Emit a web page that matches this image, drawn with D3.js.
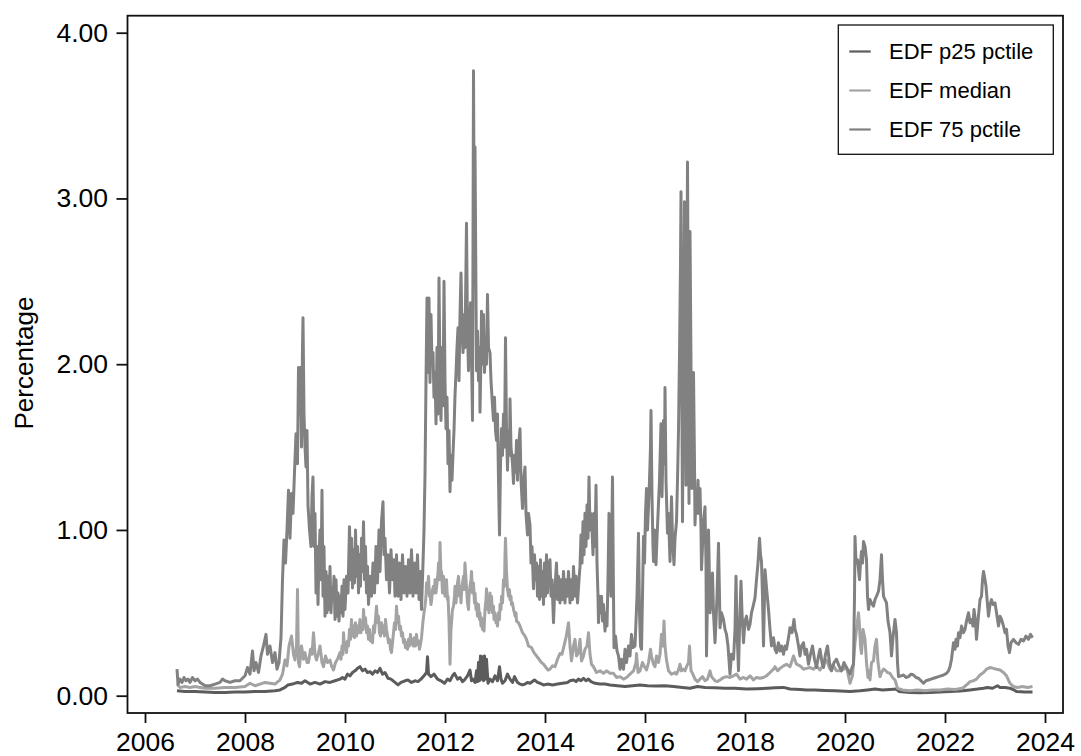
<!DOCTYPE html>
<html>
<head>
<meta charset="utf-8">
<script src="https://cdn.jsdelivr.net/npm/d3@7"></script>
<style>
	body { margin: 0; background: #fff; }
	svg { display: block; font-family: "Liberation Sans", Arial, sans-serif; }
</style>
</head>
<body>
<svg id="chart" width="1081" height="756"></svg>
<script>
const xTicks = [2006, 2008, 2010, 2012, 2014, 2016, 2018, 2020, 2022, 2024];
const yTicks = [0, 1, 2, 3, 4];
const seriesNames = ["EDF p25 pctile", "EDF median", "EDF 75 pctile"];

// [decimal year, percentage]
const p25 = [[2006.64,0.03],[2006.8,0.025],[2007.0,0.025],[2007.2,0.022],[2007.4,0.02],[2007.6,0.02],[2007.8,0.022],[2008.0,0.022],[2008.2,0.025],[2008.4,0.025],[2008.6,0.03],[2008.7,0.035],[2008.8,0.05],[2008.86,0.065],[2008.95,0.07],[2009.05,0.08],[2009.13,0.075],[2009.2,0.09],[2009.3,0.07],[2009.4,0.08],[2009.5,0.07],[2009.6,0.085],[2009.7,0.08],[2009.8,0.09],[2009.9,0.1],[2009.95,0.11],[2010.0,0.1],[2010.05,0.13],[2010.1,0.12],[2010.15,0.14],[2010.2,0.15],[2010.25,0.165],[2010.3,0.175],[2010.35,0.15],[2010.4,0.16],[2010.45,0.14],[2010.5,0.145],[2010.55,0.13],[2010.6,0.15],[2010.65,0.14],[2010.7,0.165],[2010.75,0.13],[2010.8,0.14],[2010.86,0.105],[2010.92,0.1],[2011.0,0.08],[2011.06,0.065],[2011.12,0.08],[2011.2,0.09],[2011.26,0.095],[2011.33,0.08],[2011.4,0.09],[2011.46,0.085],[2011.52,0.1],[2011.58,0.12],[2011.63,0.14],[2011.65,0.235],[2011.67,0.13],[2011.72,0.115],[2011.78,0.13],[2011.85,0.1],[2011.92,0.09],[2011.99,0.075],[2012.05,0.1],[2012.1,0.09],[2012.15,0.12],[2012.19,0.135],[2012.25,0.1],[2012.3,0.11],[2012.35,0.085],[2012.39,0.095],[2012.45,0.12],[2012.5,0.155],[2012.53,0.09],[2012.56,0.1],[2012.6,0.08],[2012.63,0.15],[2012.65,0.085],[2012.67,0.2],[2012.69,0.09],[2012.71,0.24],[2012.73,0.1],[2012.75,0.235],[2012.77,0.09],[2012.79,0.24],[2012.81,0.1],[2012.83,0.22],[2012.86,0.075],[2012.9,0.1],[2012.95,0.085],[2013.0,0.12],[2013.05,0.09],[2013.09,0.175],[2013.12,0.1],[2013.15,0.075],[2013.2,0.09],[2013.25,0.13],[2013.3,0.1],[2013.35,0.08],[2013.39,0.115],[2013.45,0.08],[2013.5,0.07],[2013.55,0.065],[2013.6,0.07],[2013.65,0.08],[2013.7,0.075],[2013.79,0.095],[2013.85,0.08],[2013.9,0.075],[2013.97,0.065],[2014.05,0.07],[2014.15,0.065],[2014.25,0.07],[2014.35,0.075],[2014.45,0.08],[2014.5,0.09],[2014.57,0.095],[2014.62,0.085],[2014.67,0.1],[2014.72,0.09],[2014.77,0.105],[2014.82,0.09],[2014.87,0.1],[2014.92,0.085],[2015.0,0.075],[2015.1,0.07],[2015.2,0.07],[2015.3,0.065],[2015.45,0.06],[2015.6,0.055],[2015.75,0.06],[2015.9,0.065],[2016.05,0.06],[2016.2,0.058],[2016.4,0.06],[2016.57,0.055],[2016.75,0.05],[2016.9,0.045],[2017.05,0.055],[2017.2,0.05],[2017.4,0.048],[2017.6,0.045],[2017.8,0.045],[2018.03,0.04],[2018.25,0.042],[2018.45,0.045],[2018.6,0.048],[2018.77,0.05],[2018.9,0.04],[2019.1,0.038],[2019.23,0.035],[2019.4,0.035],[2019.6,0.032],[2019.8,0.03],[2019.9,0.028],[2020.1,0.025],[2020.3,0.03],[2020.45,0.035],[2020.6,0.04],[2020.75,0.035],[2020.9,0.038],[2021.03,0.04],[2021.08,0.025],[2021.3,0.02],[2021.5,0.018],[2021.7,0.02],[2021.9,0.022],[2022.1,0.025],[2022.3,0.028],[2022.5,0.035],[2022.65,0.04],[2022.77,0.045],[2022.85,0.05],[2022.95,0.045],[2023.05,0.06],[2023.1,0.05],[2023.2,0.05],[2023.3,0.045],[2023.38,0.035],[2023.43,0.025],[2023.6,0.022],[2023.75,0.022]];

const median = [[2006.64,0.07],[2006.7,0.05],[2006.8,0.055],[2006.9,0.05],[2007.0,0.055],[2007.1,0.05],[2007.2,0.045],[2007.4,0.045],[2007.6,0.05],[2007.8,0.05],[2008.0,0.055],[2008.1,0.075],[2008.2,0.06],[2008.3,0.07],[2008.4,0.08],[2008.5,0.075],[2008.6,0.07],[2008.7,0.095],[2008.75,0.13],[2008.8,0.215],[2008.84,0.18],[2008.88,0.3],[2008.93,0.36],[2008.97,0.25],[2009.0,0.215],[2009.03,0.3],[2009.05,0.64],[2009.07,0.2],[2009.09,0.175],[2009.13,0.3],[2009.17,0.22],[2009.2,0.26],[2009.24,0.2],[2009.27,0.2],[2009.31,0.28],[2009.34,0.25],[2009.37,0.38],[2009.4,0.25],[2009.43,0.215],[2009.47,0.26],[2009.5,0.3],[2009.54,0.2],[2009.57,0.175],[2009.61,0.24],[2009.65,0.2],[2009.7,0.215],[2009.73,0.18],[2009.77,0.155],[2009.81,0.2],[2009.85,0.22],[2009.9,0.26],[2009.92,0.22],[2009.94,0.3],[2009.96,0.25],[2009.97,0.38],[2009.99,0.28],[2010.01,0.32],[2010.03,0.26],[2010.05,0.33],[2010.07,0.3],[2010.09,0.4],[2010.11,0.34],[2010.13,0.46],[2010.15,0.36],[2010.17,0.42],[2010.19,0.35],[2010.21,0.44],[2010.23,0.36],[2010.25,0.42],[2010.27,0.38],[2010.3,0.46],[2010.32,0.38],[2010.34,0.44],[2010.36,0.4],[2010.37,0.52],[2010.39,0.42],[2010.41,0.47],[2010.43,0.38],[2010.45,0.42],[2010.47,0.34],[2010.49,0.4],[2010.51,0.33],[2010.53,0.36],[2010.55,0.32],[2010.57,0.42],[2010.59,0.38],[2010.61,0.46],[2010.63,0.54],[2010.65,0.44],[2010.67,0.48],[2010.69,0.38],[2010.71,0.36],[2010.73,0.44],[2010.75,0.38],[2010.77,0.42],[2010.79,0.36],[2010.81,0.46],[2010.83,0.4],[2010.85,0.36],[2010.87,0.32],[2010.89,0.34],[2010.91,0.28],[2010.93,0.26],[2010.95,0.32],[2010.97,0.38],[2010.99,0.44],[2011.01,0.4],[2011.03,0.54],[2011.05,0.44],[2011.07,0.48],[2011.09,0.4],[2011.11,0.42],[2011.13,0.36],[2011.15,0.38],[2011.17,0.32],[2011.19,0.34],[2011.21,0.29],[2011.23,0.32],[2011.25,0.28],[2011.27,0.34],[2011.29,0.3],[2011.31,0.37],[2011.33,0.31],[2011.35,0.34],[2011.37,0.3],[2011.39,0.35],[2011.41,0.3],[2011.43,0.37],[2011.45,0.31],[2011.47,0.33],[2011.49,0.28],[2011.51,0.31],[2011.53,0.35],[2011.56,0.45],[2011.58,0.5],[2011.6,0.54],[2011.62,0.6],[2011.63,0.68],[2011.65,0.62],[2011.67,0.72],[2011.69,0.6],[2011.7,0.62],[2011.72,0.55],[2011.73,0.57],[2011.75,0.64],[2011.77,0.66],[2011.79,0.62],[2011.8,0.7],[2011.82,0.62],[2011.84,0.68],[2011.86,0.74],[2011.87,0.8],[2011.89,0.7],[2011.9,0.925],[2011.92,0.72],[2011.93,0.75],[2011.95,0.62],[2011.97,0.72],[2011.98,0.68],[2012.0,0.6],[2012.01,0.66],[2012.03,0.7],[2012.05,0.58],[2012.06,0.6],[2012.08,0.45],[2012.1,0.19],[2012.12,0.4],[2012.14,0.48],[2012.15,0.52],[2012.17,0.54],[2012.19,0.6],[2012.2,0.66],[2012.22,0.56],[2012.23,0.6],[2012.25,0.68],[2012.27,0.72],[2012.29,0.6],[2012.3,0.66],[2012.32,0.56],[2012.33,0.62],[2012.35,0.68],[2012.37,0.72],[2012.38,0.64],[2012.4,0.8],[2012.42,0.7],[2012.43,0.65],[2012.45,0.56],[2012.47,0.52],[2012.48,0.6],[2012.5,0.66],[2012.52,0.7],[2012.53,0.75],[2012.55,0.62],[2012.57,0.68],[2012.59,0.56],[2012.6,0.62],[2012.62,0.52],[2012.63,0.56],[2012.65,0.48],[2012.67,0.55],[2012.69,0.46],[2012.7,0.5],[2012.72,0.42],[2012.73,0.47],[2012.75,0.4],[2012.77,0.45],[2012.78,0.39],[2012.8,0.52],[2012.82,0.58],[2012.83,0.645],[2012.85,0.52],[2012.87,0.58],[2012.88,0.5],[2012.9,0.62],[2012.92,0.52],[2012.93,0.6],[2012.95,0.5],[2012.97,0.54],[2012.98,0.46],[2013.0,0.5],[2013.02,0.44],[2013.03,0.46],[2013.05,0.42],[2013.07,0.5],[2013.09,0.46],[2013.1,0.55],[2013.12,0.52],[2013.13,0.6],[2013.15,0.56],[2013.17,0.7],[2013.19,0.66],[2013.2,0.85],[2013.21,0.95],[2013.23,0.75],[2013.25,0.64],[2013.27,0.6],[2013.29,0.64],[2013.3,0.58],[2013.32,0.6],[2013.33,0.55],[2013.35,0.56],[2013.37,0.52],[2013.39,0.5],[2013.4,0.48],[2013.42,0.5],[2013.43,0.45],[2013.47,0.44],[2013.5,0.42],[2013.55,0.38],[2013.6,0.36],[2013.63,0.34],[2013.67,0.3],[2013.73,0.29],[2013.78,0.26],[2013.83,0.24],[2013.88,0.22],[2013.93,0.2],[2013.97,0.19],[2014.02,0.17],[2014.06,0.155],[2014.1,0.16],[2014.15,0.18],[2014.2,0.175],[2014.25,0.22],[2014.3,0.255],[2014.34,0.25],[2014.38,0.3],[2014.42,0.35],[2014.47,0.44],[2014.5,0.3],[2014.53,0.21],[2014.57,0.3],[2014.6,0.34],[2014.63,0.24],[2014.67,0.26],[2014.7,0.34],[2014.73,0.21],[2014.77,0.24],[2014.8,0.28],[2014.84,0.3],[2014.87,0.38],[2014.9,0.25],[2014.93,0.19],[2014.97,0.175],[2015.03,0.14],[2015.1,0.15],[2015.17,0.135],[2015.23,0.15],[2015.3,0.135],[2015.37,0.135],[2015.43,0.11],[2015.5,0.115],[2015.57,0.1],[2015.63,0.11],[2015.7,0.13],[2015.77,0.15],[2015.82,0.2],[2015.83,0.255],[2015.86,0.14],[2015.9,0.15],[2015.95,0.2],[2015.98,0.18],[2016.03,0.155],[2016.07,0.2],[2016.11,0.28],[2016.13,0.235],[2016.17,0.19],[2016.2,0.175],[2016.23,0.24],[2016.27,0.2],[2016.3,0.25],[2016.33,0.37],[2016.36,0.3],[2016.38,0.45],[2016.4,0.3],[2016.43,0.215],[2016.47,0.15],[2016.5,0.14],[2016.53,0.13],[2016.57,0.135],[2016.6,0.14],[2016.63,0.13],[2016.67,0.155],[2016.7,0.19],[2016.73,0.15],[2016.77,0.16],[2016.8,0.15],[2016.83,0.175],[2016.87,0.2],[2016.89,0.3],[2016.92,0.15],[2016.95,0.135],[2017.0,0.1],[2017.05,0.085],[2017.1,0.1],[2017.15,0.115],[2017.2,0.09],[2017.25,0.1],[2017.3,0.15],[2017.33,0.115],[2017.4,0.09],[2017.45,0.085],[2017.5,0.095],[2017.57,0.11],[2017.63,0.115],[2017.7,0.11],[2017.77,0.12],[2017.83,0.13],[2017.9,0.1],[2017.97,0.11],[2018.03,0.1],[2018.1,0.12],[2018.17,0.095],[2018.23,0.11],[2018.3,0.105],[2018.37,0.11],[2018.43,0.12],[2018.5,0.14],[2018.57,0.16],[2018.6,0.175],[2018.65,0.15],[2018.7,0.165],[2018.77,0.18],[2018.83,0.19],[2018.9,0.175],[2018.97,0.24],[2019.03,0.19],[2019.1,0.18],[2019.17,0.16],[2019.23,0.165],[2019.3,0.17],[2019.37,0.16],[2019.43,0.18],[2019.5,0.155],[2019.57,0.19],[2019.63,0.215],[2019.7,0.16],[2019.77,0.18],[2019.83,0.15],[2019.9,0.15],[2019.97,0.16],[2020.03,0.17],[2020.1,0.075],[2020.15,0.12],[2020.2,0.32],[2020.23,0.4],[2020.27,0.5],[2020.29,0.42],[2020.31,0.3],[2020.33,0.255],[2020.36,0.4],[2020.4,0.34],[2020.43,0.2],[2020.46,0.11],[2020.48,0.15],[2020.5,0.095],[2020.53,0.2],[2020.57,0.21],[2020.6,0.3],[2020.63,0.34],[2020.66,0.2],[2020.7,0.115],[2020.73,0.14],[2020.77,0.16],[2020.8,0.155],[2020.85,0.14],[2020.9,0.135],[2020.95,0.11],[2021.0,0.095],[2021.05,0.045],[2021.15,0.035],[2021.3,0.03],[2021.45,0.035],[2021.6,0.03],[2021.75,0.035],[2021.9,0.035],[2022.05,0.04],[2022.2,0.038],[2022.35,0.045],[2022.45,0.07],[2022.5,0.085],[2022.57,0.09],[2022.63,0.1],[2022.7,0.125],[2022.77,0.14],[2022.83,0.16],[2022.9,0.17],[2022.97,0.165],[2023.03,0.16],[2023.1,0.155],[2023.17,0.14],[2023.23,0.12],[2023.3,0.075],[2023.37,0.055],[2023.45,0.05],[2023.55,0.055],[2023.65,0.05],[2023.75,0.055]];

const p75 = [[2006.64,0.16],[2006.66,0.07],[2006.7,0.1],[2006.74,0.08],[2006.78,0.11],[2006.82,0.09],[2006.86,0.1],[2006.9,0.08],[2006.95,0.11],[2007.0,0.09],[2007.05,0.1],[2007.1,0.08],[2007.15,0.07],[2007.2,0.06],[2007.3,0.06],[2007.4,0.07],[2007.5,0.08],[2007.55,0.1],[2007.6,0.09],[2007.7,0.08],[2007.8,0.09],[2007.9,0.09],[2008.0,0.12],[2008.05,0.17],[2008.1,0.13],[2008.15,0.27],[2008.18,0.15],[2008.22,0.2],[2008.27,0.14],[2008.32,0.24],[2008.37,0.3],[2008.42,0.37],[2008.45,0.25],[2008.5,0.3],[2008.55,0.2],[2008.6,0.26],[2008.64,0.16],[2008.68,0.2],[2008.72,0.35],[2008.75,0.7],[2008.78,0.94],[2008.81,0.8],[2008.84,1.0],[2008.87,1.24],[2008.9,0.95],[2008.93,1.22],[2008.96,1.1],[2008.99,1.35],[2009.02,1.58],[2009.05,1.4],[2009.07,1.98],[2009.09,1.7],[2009.11,1.98],[2009.13,1.5],[2009.15,2.1],[2009.16,2.28],[2009.18,1.7],[2009.2,1.5],[2009.22,1.38],[2009.24,1.6],[2009.26,1.15],[2009.29,1.0],[2009.32,0.9],[2009.34,1.2],[2009.36,1.32],[2009.38,0.9],[2009.4,1.1],[2009.42,0.62],[2009.44,0.9],[2009.46,0.55],[2009.48,0.85],[2009.5,1.0],[2009.52,0.7],[2009.54,1.24],[2009.56,0.6],[2009.58,0.9],[2009.6,0.48],[2009.62,0.75],[2009.64,0.5],[2009.66,0.72],[2009.68,0.52],[2009.7,0.78],[2009.72,0.5],[2009.74,0.65],[2009.76,0.58],[2009.78,0.72],[2009.8,0.46],[2009.82,0.7],[2009.84,0.48],[2009.86,0.62],[2009.88,0.45],[2009.9,0.6],[2009.92,0.5],[2009.94,0.66],[2009.96,0.48],[2009.98,0.7],[2010.0,0.52],[2010.03,0.72],[2010.06,0.62],[2010.09,1.02],[2010.11,0.7],[2010.13,0.95],[2010.15,0.65],[2010.17,0.88],[2010.19,0.68],[2010.21,1.0],[2010.23,0.72],[2010.25,0.9],[2010.27,0.62],[2010.29,0.85],[2010.31,0.66],[2010.33,0.95],[2010.35,0.75],[2010.37,1.05],[2010.39,0.7],[2010.41,0.9],[2010.43,0.62],[2010.45,0.78],[2010.47,0.55],[2010.5,0.72],[2010.53,0.6],[2010.56,0.8],[2010.59,0.62],[2010.62,0.9],[2010.65,0.68],[2010.68,1.0],[2010.7,0.75],[2010.73,1.05],[2010.76,1.17],[2010.78,0.85],[2010.8,0.95],[2010.83,0.7],[2010.86,0.85],[2010.89,0.62],[2010.92,0.88],[2010.95,0.7],[2010.98,0.82],[2011.0,0.6],[2011.03,0.85],[2011.06,0.6],[2011.09,0.8],[2011.12,0.58],[2011.15,0.85],[2011.18,0.62],[2011.21,0.78],[2011.24,0.6],[2011.27,0.82],[2011.3,0.62],[2011.33,0.88],[2011.36,0.6],[2011.39,0.8],[2011.42,0.62],[2011.45,0.85],[2011.48,0.58],[2011.51,0.75],[2011.53,0.52],[2011.56,0.8],[2011.58,1.0],[2011.6,1.33],[2011.62,1.9],[2011.64,2.4],[2011.66,1.95],[2011.68,2.4],[2011.7,1.89],[2011.72,2.3],[2011.74,2.0],[2011.76,2.07],[2011.78,1.8],[2011.8,1.95],[2011.82,1.64],[2011.84,2.1],[2011.86,1.7],[2011.88,2.52],[2011.9,1.9],[2011.92,1.66],[2011.94,2.1],[2011.96,1.75],[2011.98,2.5],[2012.0,1.9],[2012.02,1.61],[2012.04,1.8],[2012.06,1.4],[2012.08,1.6],[2012.1,1.23],[2012.12,1.45],[2012.14,1.3],[2012.16,1.46],[2012.18,1.6],[2012.2,1.81],[2012.22,1.95],[2012.24,2.1],[2012.26,2.22],[2012.28,1.9],[2012.3,2.3],[2012.32,2.55],[2012.34,2.2],[2012.36,2.07],[2012.38,2.3],[2012.4,2.1],[2012.43,2.85],[2012.45,2.2],[2012.47,1.96],[2012.49,2.2],[2012.51,2.37],[2012.53,2.05],[2012.55,1.66],[2012.57,3.77],[2012.59,2.5],[2012.6,3.31],[2012.62,2.4],[2012.63,1.96],[2012.65,2.2],[2012.67,1.9],[2012.69,2.1],[2012.7,1.71],[2012.72,2.05],[2012.73,2.32],[2012.75,2.0],[2012.77,2.3],[2012.79,1.95],[2012.81,2.12],[2012.83,2.0],[2012.85,2.42],[2012.87,2.1],[2012.9,2.07],[2012.92,1.9],[2012.95,1.75],[2012.97,1.66],[2012.99,1.8],[2013.01,1.6],[2013.03,1.54],[2013.05,1.7],[2013.07,1.3],[2013.09,0.97],[2013.11,1.4],[2013.13,1.61],[2013.15,1.45],[2013.17,1.7],[2013.19,1.5],[2013.21,2.16],[2013.23,1.6],[2013.25,1.36],[2013.27,1.6],[2013.29,1.45],[2013.3,1.79],[2013.32,1.5],[2013.35,1.4],[2013.37,1.28],[2013.39,1.45],[2013.41,1.35],[2013.43,1.54],[2013.45,1.3],[2013.47,1.5],[2013.5,1.61],[2013.52,1.3],[2013.55,1.13],[2013.57,1.3],[2013.6,1.38],[2013.62,1.1],[2013.65,0.97],[2013.67,1.1],[2013.7,1.03],[2013.72,0.8],[2013.74,0.9],[2013.77,0.645],[2013.79,0.85],[2013.81,0.7],[2013.83,0.8],[2013.85,0.6],[2013.87,0.78],[2013.89,0.58],[2013.91,0.82],[2013.93,0.6],[2013.95,0.75],[2013.97,0.55],[2013.99,0.8],[2014.01,0.6],[2014.03,0.85],[2014.05,0.62],[2014.07,0.78],[2014.1,0.82],[2014.12,0.6],[2014.14,0.7],[2014.17,0.44],[2014.19,0.6],[2014.21,0.7],[2014.23,0.8],[2014.25,0.58],[2014.27,0.72],[2014.3,0.56],[2014.32,0.7],[2014.35,0.58],[2014.37,0.75],[2014.4,0.56],[2014.42,0.7],[2014.45,0.6],[2014.47,0.75],[2014.5,0.56],[2014.52,0.7],[2014.55,0.58],[2014.57,0.78],[2014.6,0.6],[2014.62,0.72],[2014.65,0.56],[2014.68,0.7],[2014.7,0.78],[2014.72,0.97],[2014.74,0.8],[2014.76,1.05],[2014.78,0.85],[2014.8,1.1],[2014.82,0.9],[2014.84,1.15],[2014.86,0.95],[2014.88,1.32],[2014.9,1.0],[2014.92,1.1],[2014.94,1.0],[2014.96,0.85],[2014.98,1.1],[2015.0,0.9],[2015.02,1.27],[2015.04,0.8],[2015.06,0.6],[2015.07,0.44],[2015.09,0.6],[2015.11,0.5],[2015.13,0.6],[2015.15,0.45],[2015.17,0.55],[2015.2,0.39],[2015.22,0.5],[2015.24,0.42],[2015.26,0.7],[2015.28,1.1],[2015.3,0.8],[2015.32,0.6],[2015.35,1.32],[2015.37,0.6],[2015.38,0.29],[2015.41,0.36],[2015.44,0.27],[2015.47,0.24],[2015.5,0.16],[2015.53,0.22],[2015.57,0.16],[2015.6,0.28],[2015.63,0.2],[2015.67,0.3],[2015.7,0.24],[2015.73,0.37],[2015.76,0.29],[2015.8,0.3],[2015.84,0.6],[2015.87,0.98],[2015.89,0.5],[2015.91,0.3],[2015.93,0.28],[2015.95,0.6],[2015.97,0.96],[2015.99,0.8],[2016.01,1.1],[2016.03,1.25],[2016.05,1.0],[2016.07,1.14],[2016.09,1.3],[2016.11,1.5],[2016.12,1.72],[2016.14,1.2],[2016.16,0.9],[2016.17,0.81],[2016.19,1.0],[2016.22,0.79],[2016.24,0.95],[2016.27,1.16],[2016.29,1.3],[2016.32,1.64],[2016.34,1.2],[2016.37,1.66],[2016.39,1.4],[2016.4,1.86],[2016.42,1.3],[2016.45,0.98],[2016.47,1.1],[2016.5,0.81],[2016.53,1.2],[2016.55,0.95],[2016.58,0.79],[2016.6,0.95],[2016.63,1.05],[2016.65,1.3],[2016.67,1.6],[2016.69,2.06],[2016.71,2.6],[2016.72,3.04],[2016.73,2.2],[2016.75,1.05],[2016.77,2.0],[2016.79,2.98],[2016.8,2.4],[2016.82,1.27],[2016.84,2.5],[2016.85,3.22],[2016.86,2.6],[2016.88,1.16],[2016.89,2.2],[2016.9,2.8],[2016.92,2.0],[2016.94,1.25],[2016.95,1.6],[2016.97,1.95],[2016.99,1.4],[2017.0,1.03],[2017.02,1.2],[2017.04,1.1],[2017.06,1.3],[2017.08,1.1],[2017.1,1.25],[2017.12,1.0],[2017.13,0.76],[2017.15,0.9],[2017.17,1.05],[2017.2,1.14],[2017.22,0.8],[2017.23,0.24],[2017.25,0.6],[2017.27,1.0],[2017.29,0.7],[2017.3,0.5],[2017.33,0.6],[2017.35,0.74],[2017.37,0.5],[2017.4,0.32],[2017.42,0.45],[2017.44,0.6],[2017.47,0.92],[2017.49,0.6],[2017.5,0.41],[2017.53,0.5],[2017.57,0.46],[2017.6,0.4],[2017.63,0.37],[2017.66,0.3],[2017.7,0.13],[2017.73,0.25],[2017.77,0.22],[2017.8,0.4],[2017.82,0.72],[2017.84,0.4],[2017.87,0.15],[2017.89,0.4],[2017.92,0.69],[2017.94,0.5],[2017.97,0.32],[2018.0,0.45],[2018.03,0.48],[2018.07,0.4],[2018.1,0.43],[2018.13,0.5],[2018.17,0.55],[2018.2,0.59],[2018.23,0.7],[2018.26,0.8],[2018.29,0.95],[2018.31,0.85],[2018.33,0.81],[2018.35,0.6],[2018.37,0.3],[2018.39,0.6],[2018.4,0.76],[2018.43,0.65],[2018.47,0.52],[2018.5,0.4],[2018.53,0.3],[2018.57,0.35],[2018.6,0.28],[2018.63,0.26],[2018.67,0.32],[2018.7,0.27],[2018.73,0.3],[2018.77,0.25],[2018.8,0.3],[2018.83,0.28],[2018.87,0.35],[2018.9,0.41],[2018.94,0.38],[2018.98,0.46],[2019.0,0.4],[2019.03,0.37],[2019.07,0.3],[2019.1,0.24],[2019.13,0.3],[2019.17,0.32],[2019.2,0.25],[2019.23,0.28],[2019.27,0.19],[2019.31,0.25],[2019.35,0.3],[2019.39,0.22],[2019.43,0.17],[2019.47,0.24],[2019.5,0.28],[2019.54,0.2],[2019.57,0.17],[2019.61,0.25],[2019.65,0.3],[2019.69,0.2],[2019.73,0.15],[2019.78,0.2],[2019.83,0.22],[2019.88,0.18],[2019.93,0.15],[2019.98,0.2],[2020.03,0.17],[2020.07,0.15],[2020.1,0.13],[2020.14,0.17],[2020.17,0.19],[2020.19,0.6],[2020.2,0.96],[2020.22,0.8],[2020.25,0.82],[2020.27,0.76],[2020.29,0.7],[2020.31,0.8],[2020.33,0.87],[2020.35,0.8],[2020.37,0.93],[2020.4,0.9],[2020.43,0.82],[2020.45,0.6],[2020.47,0.52],[2020.5,0.58],[2020.53,0.56],[2020.57,0.54],[2020.6,0.58],[2020.63,0.6],[2020.67,0.63],[2020.7,0.7],[2020.73,0.85],[2020.75,0.7],[2020.77,0.6],[2020.8,0.58],[2020.83,0.56],[2020.86,0.45],[2020.9,0.38],[2020.93,0.24],[2020.96,0.35],[2021.0,0.46],[2021.03,0.38],[2021.05,0.2],[2021.07,0.115],[2021.12,0.12],[2021.17,0.125],[2021.22,0.11],[2021.27,0.115],[2021.32,0.13],[2021.37,0.125],[2021.42,0.11],[2021.47,0.105],[2021.52,0.09],[2021.57,0.075],[2021.62,0.09],[2021.67,0.095],[2021.72,0.1],[2021.77,0.105],[2021.82,0.11],[2021.87,0.115],[2021.92,0.12],[2021.97,0.125],[2022.03,0.135],[2022.07,0.15],[2022.1,0.175],[2022.13,0.22],[2022.17,0.32],[2022.2,0.28],[2022.22,0.34],[2022.25,0.3],[2022.27,0.38],[2022.3,0.35],[2022.33,0.42],[2022.37,0.38],[2022.4,0.4],[2022.43,0.45],[2022.47,0.5],[2022.5,0.44],[2022.53,0.46],[2022.56,0.42],[2022.58,0.52],[2022.61,0.45],[2022.63,0.34],[2022.66,0.45],[2022.7,0.58],[2022.73,0.6],[2022.75,0.7],[2022.77,0.75],[2022.8,0.7],[2022.82,0.66],[2022.85,0.55],[2022.87,0.48],[2022.9,0.55],[2022.93,0.58],[2022.96,0.55],[2023.0,0.56],[2023.03,0.5],[2023.07,0.42],[2023.1,0.48],[2023.13,0.46],[2023.17,0.42],[2023.2,0.38],[2023.23,0.4],[2023.26,0.3],[2023.29,0.26],[2023.32,0.32],[2023.37,0.34],[2023.42,0.32],[2023.47,0.31],[2023.52,0.34],[2023.57,0.33],[2023.62,0.36],[2023.67,0.34],[2023.71,0.37],[2023.75,0.35]];

const colors = ["#5c5c5c", "#a3a3a3", "#818181"];

const svg = d3.select("#chart");

const frame = { left: 127.5, right: 1063, top: 15.7, bottom: 713 };

const x = d3.scaleLinear().domain([2006, 2024]).range([145, 1045]);
const y = d3.scaleLinear().domain([0, 4]).range([695.7, 32.7]);

const line = d3.line()
	.x((d) => x(d[0]))
	.y((d) => y(d[1]));

// series, drawn in legend order
[p25, median, p75].forEach((series, i) => {
	svg.append("path")
		.datum(series)
		.attr("fill", "none")
		.attr("stroke", colors[i])
		.attr("stroke-width", 3)
		.attr("stroke-linejoin", "round")
		.attr("d", line);
});

// plot frame
svg.append("rect")
	.attr("x", frame.left)
	.attr("y", frame.top)
	.attr("width", frame.right - frame.left)
	.attr("height", frame.bottom - frame.top)
	.attr("fill", "none")
	.attr("stroke", "#111")
	.attr("stroke-width", 1.8);

const xAxis = svg.append("g")
	.attr("transform", `translate(0,${frame.bottom})`)
	.call(
		d3.axisBottom(x)
			.tickValues(xTicks)
			.tickFormat(d3.format("d"))
			.tickSize(10)
			.tickPadding(8.7)
	);

const yAxis = svg.append("g")
	.attr("transform", `translate(${frame.left},0)`)
	.call(
		d3.axisLeft(y)
			.tickValues(yTicks)
			.tickFormat(d3.format(".2f"))
			.tickSize(11)
			.tickPadding(8.5)
	);

[xAxis, yAxis].forEach((g) => {
	g.select(".domain").remove();
	g.selectAll(".tick line")
		.attr("stroke", "#111")
		.attr("stroke-width", 1.8);
	g.selectAll(".tick text")
		.attr("fill", "#000")
		.style("font-size", "26.5px")
		.style("font-family", '"Liberation Sans", Arial, sans-serif');
});

svg.append("text")
	.attr("transform", "translate(33,363) rotate(-90)")
	.attr("text-anchor", "middle")
	.style("font-size", "26px")
	.text("Percentage");

// legend
const legend = svg.append("g");
legend.append("rect")
	.attr("x", 838.3)
	.attr("y", 25)
	.attr("width", 215)
	.attr("height", 129.3)
	.attr("fill", "#fff")
	.attr("stroke", "#111")
	.attr("stroke-width", 1.3);

const rows = legend.selectAll("g.row")
	.data(seriesNames)
	.join("g")
	.attr("class", "row")
	.attr("transform", (d, i) => `translate(0,${51.5 + i * 39})`);

rows.append("line")
	.attr("x1", 849.3)
	.attr("x2", 870.7)
	.attr("stroke", (d, i) => colors[i])
	.attr("stroke-width", 2.2);

rows.append("text")
	.attr("x", 889)
	.attr("dy", "0.36em")
	.style("font-size", "22px")
	.text((d) => d);
</script>
</body>
</html>
